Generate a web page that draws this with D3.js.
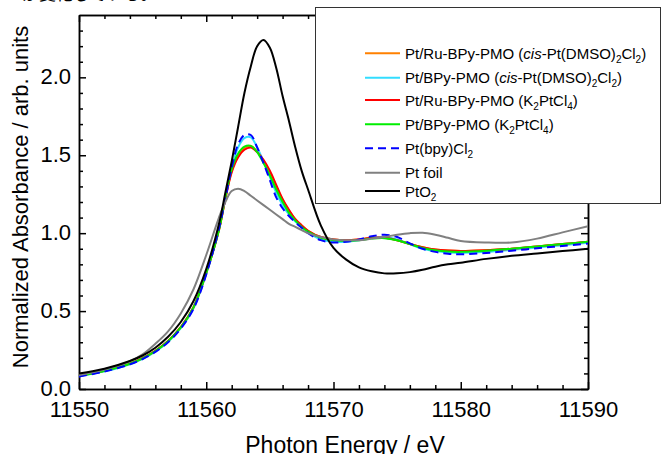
<!DOCTYPE html>
<html>
<head>
<meta charset="utf-8">
<script src="https://cdn.jsdelivr.net/npm/d3@7/dist/d3.min.js"></script>
<style>
  html, body { margin: 0; padding: 0; background: #fff; }
  svg { display: block; }
  text { font-family: Arial, "Liberation Sans", sans-serif; fill: #000; }
</style>
</head>
<body>
<svg id="chart" width="661" height="454"></svg>
<script>
// ---------------- data ----------------
const energy = [11550, 11552, 11554, 11555, 11556, 11557, 11558, 11559, 11560, 11561,
  11561.5, 11562, 11562.5, 11563, 11563.5, 11564, 11564.5, 11565, 11565.5, 11566,
  11566.5, 11567, 11567.5, 11568, 11569, 11570, 11571, 11572, 11573, 11574,
  11575, 11576, 11577, 11578, 11579, 11580, 11582, 11584, 11586, 11588, 11590];

const ptRuCis = [0.085, 0.117, 0.163, 0.198, 0.245, 0.308, 0.397, 0.525, 0.745, 1.02,
  1.22, 1.40, 1.50, 1.545, 1.56, 1.525, 1.465, 1.39, 1.30, 1.215,
  1.145, 1.09, 1.05, 1.015, 0.975, 0.96, 0.955, 0.96, 0.97, 0.97,
  0.955, 0.93, 0.91, 0.895, 0.888, 0.885, 0.89, 0.90, 0.915, 0.93, 0.945];

const ptBpyCis = [0.082, 0.113, 0.159, 0.193, 0.240, 0.302, 0.390, 0.518, 0.740, 1.03,
  1.23, 1.42, 1.55, 1.61, 1.615, 1.55, 1.46, 1.36, 1.26, 1.18,
  1.12, 1.075, 1.04, 1.005, 0.96, 0.945, 0.945, 0.955, 0.97, 0.975,
  0.96, 0.93, 0.90, 0.885, 0.876, 0.873, 0.88, 0.893, 0.908, 0.922, 0.938];

const ptRuK2 = [0.085, 0.117, 0.163, 0.198, 0.245, 0.308, 0.397, 0.525, 0.745, 1.02,
  1.22, 1.39, 1.485, 1.535, 1.55, 1.52, 1.47, 1.40, 1.31, 1.22,
  1.15, 1.09, 1.05, 1.015, 0.975, 0.96, 0.955, 0.96, 0.97, 0.97,
  0.955, 0.93, 0.91, 0.895, 0.888, 0.885, 0.89, 0.90, 0.915, 0.93, 0.945];

const ptBpyK2 = [0.084, 0.116, 0.162, 0.197, 0.244, 0.307, 0.396, 0.524, 0.745, 1.02,
  1.23, 1.41, 1.51, 1.555, 1.56, 1.52, 1.45, 1.37, 1.28, 1.20,
  1.13, 1.08, 1.04, 1.01, 0.97, 0.955, 0.95, 0.955, 0.965, 0.968,
  0.955, 0.93, 0.905, 0.89, 0.882, 0.88, 0.887, 0.90, 0.915, 0.93, 0.945];

const ptBpyCl2 = [0.080, 0.112, 0.158, 0.192, 0.238, 0.300, 0.388, 0.515, 0.735, 1.03,
  1.22, 1.42, 1.57, 1.63, 1.63, 1.55, 1.45, 1.34, 1.23, 1.16,
  1.11, 1.07, 1.035, 1.0, 0.955, 0.94, 0.945, 0.96, 0.98, 0.99,
  0.975, 0.935, 0.90, 0.88, 0.868, 0.865, 0.873, 0.887, 0.903, 0.918, 0.933];

const ptFoil = [0.090, 0.125, 0.178, 0.222, 0.290, 0.370, 0.485, 0.64, 0.86, 1.10,
  1.20, 1.27, 1.285, 1.27, 1.24, 1.21, 1.18, 1.15, 1.12, 1.09,
  1.06, 1.04, 1.02, 1.00, 0.975, 0.96, 0.955, 0.955, 0.965, 0.976,
  0.99, 1.0, 1.003, 0.99, 0.97, 0.95, 0.94, 0.94, 0.965, 1.005, 1.045];

const ptO2 = [0.100, 0.130, 0.180, 0.215, 0.265, 0.335, 0.43, 0.565, 0.77, 1.06,
  1.26, 1.46, 1.68, 1.90, 2.07, 2.20, 2.24, 2.19, 2.06, 1.88,
  1.72, 1.55, 1.40, 1.28, 1.05, 0.905, 0.83, 0.78, 0.755, 0.742,
  0.742, 0.75, 0.765, 0.785, 0.80, 0.81, 0.835, 0.855, 0.87, 0.885, 0.90];

const seriesNames = [
  "Pt/Ru-BPy-PMO (<i>cis</i>-Pt(DMSO)<sub>2</sub>Cl<sub>2</sub>)",
  "Pt/BPy-PMO (<i>cis</i>-Pt(DMSO)<sub>2</sub>Cl<sub>2</sub>)",
  "Pt/Ru-BPy-PMO (K<sub>2</sub>PtCl<sub>4</sub>)",
  "Pt/BPy-PMO (K<sub>2</sub>PtCl<sub>4</sub>)",
  "Pt(bpy)Cl<sub>2</sub>",
  "Pt foil",
  "PtO<sub>2</sub>"
];
const seriesValues = [ptRuCis, ptBpyCis, ptRuK2, ptBpyK2, ptBpyCl2, ptFoil, ptO2];
const seriesColors = ["#ff8000", "#33ddff", "#ff0000", "#00ee00", "#0000ff", "#808080", "#000000"];
const seriesDash = [null, null, null, null, "8,5", null, null];

const xTicks = [11550, 11560, 11570, 11580, 11590];
const yTicks = [0.0, 0.5, 1.0, 1.5, 2.0];
const xLabel = "Photon Energy / eV";
const yLabel = "Normalized Absorbance / arb. units";
const topText = "が変化している。";

// ---------------- layout ----------------
const svg = d3.select("#chart");
const L = 79, R = 588, T = 15, B = 389;
const x = d3.scaleLinear().domain([11550, 11590]).range([L, R]);
const y = d3.scaleLinear().domain([0, 2.4]).range([B, T]);

// cropped text at very top (only its lower edge shows, as in the source)
svg.append("text").attr("x", 22).attr("y", 0).attr("font-size", 17)
  .style("font-family", "'Noto Sans CJK JP', sans-serif").text(topText);

const xMinor = d3.range(11550, 11590.01, 2).filter(v => !xTicks.includes(v));
const yMinor = d3.range(0, 24).map(i => i / 10).filter(v => !yTicks.some(t => Math.abs(t - v) < 1e-9));

function styleAxis(g) {
  g.selectAll("path.domain").attr("stroke", "#000").attr("stroke-width", 1.5);
  g.selectAll(".tick line").attr("stroke", "#000").attr("stroke-width", 1.5);
}

// bottom
const gB = svg.append("g").attr("transform", `translate(0,${B})`);
gB.call(d3.axisBottom(x).tickValues(xTicks).tickSizeInner(-7).tickSizeOuter(0).tickPadding(12).tickFormat(d3.format("d")));
gB.selectAll(".tick text").attr("font-size", 22).style("font-family", "Arial, 'Liberation Sans', sans-serif");
svg.append("g").attr("transform", `translate(0,${B})`)
  .call(d3.axisBottom(x).tickValues(xMinor).tickSizeInner(-4).tickSizeOuter(0).tickFormat(""))
  .call(styleAxis);
styleAxis(gB);

// top
svg.append("g").attr("transform", `translate(0,${T})`)
  .call(d3.axisTop(x).tickValues(xTicks).tickSizeInner(-7).tickSizeOuter(0).tickFormat(""))
  .call(styleAxis);
svg.append("g").attr("transform", `translate(0,${T})`)
  .call(d3.axisTop(x).tickValues(xMinor).tickSizeInner(-4).tickSizeOuter(0).tickFormat(""))
  .call(styleAxis);

// left
const gL = svg.append("g").attr("transform", `translate(${L},0)`);
gL.call(d3.axisLeft(y).tickValues(yTicks).tickSizeInner(-7).tickSizeOuter(0).tickPadding(8).tickFormat(d3.format(".1f")));
gL.selectAll(".tick text").attr("font-size", 22).attr("dy", "0.30em")
  .style("font-family", "Arial, 'Liberation Sans', sans-serif");
styleAxis(gL);
svg.append("g").attr("transform", `translate(${L},0)`)
  .call(d3.axisLeft(y).tickValues(yMinor).tickSizeInner(-4).tickSizeOuter(0).tickFormat(""))
  .call(styleAxis);

// right
svg.append("g").attr("transform", `translate(${R},0)`)
  .call(d3.axisRight(y).tickValues(yTicks).tickSizeInner(-7).tickSizeOuter(0).tickFormat(""))
  .call(styleAxis);
svg.append("g").attr("transform", `translate(${R},0)`)
  .call(d3.axisRight(y).tickValues(yMinor).tickSizeInner(-4).tickSizeOuter(0).tickFormat(""))
  .call(styleAxis);

// axis titles
svg.append("text").attr("x", 345).attr("y", 453).attr("text-anchor", "middle")
  .attr("font-size", 23).text(xLabel);
svg.append("text").attr("transform", "translate(28,197) rotate(-90)")
  .attr("text-anchor", "middle").attr("font-size", 22).text(yLabel);

// curves
const line = d3.line().x((d, i) => x(energy[i])).y(d => y(d)).curve(d3.curveCatmullRom.alpha(0.5));
const gC = svg.append("g");
seriesValues.forEach((vals, k) => {
  gC.append("path").datum(vals).attr("d", line)
    .attr("fill", "none").attr("stroke", seriesColors[k]).attr("stroke-width", 2)
    .attr("stroke-dasharray", seriesDash[k]);
});

// legend
const legX = 315, legY = 7, legW = 345, legH = 196;
const gLeg = svg.append("g");
gLeg.append("rect").attr("x", legX + 0.5).attr("y", legY + 0.5).attr("width", legW).attr("height", legH)
  .attr("fill", "#fff").attr("stroke", "#333").attr("stroke-width", 1);
const legRows = [53.3, 77.7, 100, 124.3, 148.3, 172.7, 191];

function addRich(textSel, markup) {
  const parts = markup.split(/(<i>.*?<\/i>|<sub>.*?<\/sub>)/).filter(s => s.length);
  let shifted = false;
  parts.forEach(p => {
    const ts = textSel.append("tspan");
    if (p.startsWith("<sub>")) {
      ts.text(p.replace(/<\/?sub>/g, "")).attr("font-size", 10).attr("dy", 4);
      shifted = true;
    } else {
      if (shifted) { ts.attr("dy", -4); shifted = false; }
      if (p.startsWith("<i>")) ts.text(p.replace(/<\/?i>/g, "")).attr("font-style", "italic");
      else ts.text(p);
    }
  });
}

seriesNames.forEach((name, k) => {
  const ry = legRows[k];
  gLeg.append("line").attr("x1", 365).attr("x2", 400).attr("y1", ry).attr("y2", ry)
    .attr("stroke", seriesColors[k]).attr("stroke-width", 2)
    .attr("stroke-dasharray", seriesDash[k]);
  const t = gLeg.append("text").attr("x", 405).attr("y", ry + 5.5).attr("font-size", 15);
  addRich(t, name);
});
</script>
</body>
</html>
